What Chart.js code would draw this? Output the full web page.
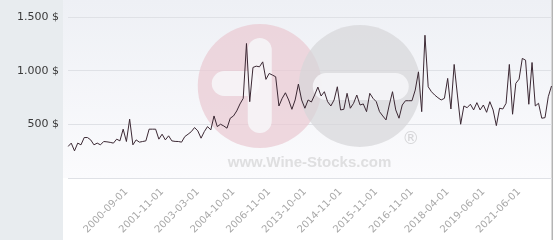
<!DOCTYPE html>
<html>
<head>
<meta charset="utf-8">
<script src="https://cdn.jsdelivr.net/npm/chart.js@4"></script>
<style>
    html, body { margin: 0; padding: 0; background: #fff; }
</style>
</head>
<body>
<canvas id="priceChart" width="560" height="240"></canvas>
<script>
// price per bottle, one value per quotation
const prices = [
    293, 325, 253, 325, 309, 377, 377, 355, 309, 325,
    309, 340, 337, 332, 325, 362, 346, 455, 340, 548,
    309, 355, 334, 340, 346, 455, 455, 455, 362, 408,
    355, 393, 346, 341, 340, 334, 386, 408, 432, 470,
    439, 371, 432, 479, 448, 578, 479, 501, 485, 464,
    557, 578, 625, 690, 742, 1253, 711, 1030, 1042, 1036,
    1082, 919, 974, 959, 943, 671, 742, 794, 727, 640,
    727, 875, 727, 650, 727, 708, 773, 847, 764, 804,
    711, 671, 727, 850, 634, 640, 789, 650, 696, 773,
    680, 690, 618, 789, 742, 711, 618, 578, 541, 680,
    804, 634, 557, 680, 720, 720, 720, 819, 989, 618,
    1330, 850, 804, 773, 748, 727, 742, 928, 643, 1058,
    773, 501, 671, 655, 687, 634, 702, 634, 680, 612,
    711, 634, 488, 650, 643, 696, 1058, 594, 882, 921,
    1114, 1098, 687, 1076, 671, 696, 557, 562, 757, 857
];

const xTickLabels = [
    '2000-09-01', '2001-11-01', '2003-03-01', '2004-10-01', '2006-11-01', '2013-10-01',
    '2014-11-01', '2015-11-01', '2016-11-01', '2018-04-01', '2019-06-01', '2021-06-01'
];
const xTickIndex = [18, 29, 40, 51, 62, 73, 84, 95, 106, 117, 128, 139];

const yTicks = [0, 500, 1000, 1500];

const categories = prices.map(function (p, i) {
    const k = xTickIndex.indexOf(i);
    return k >= 0 ? xTickLabels[k] : '';
});

function formatDollar(v) {
    if (v === 0) return '';
    return String(v).replace(/\B(?=(\d{3})+(?!\d))/g, '.') + ' $';
}

const backdrop = {
    id: 'backdrop',
    beforeDraw(chart) {
        const {ctx, chartArea, width, height} = chart;
        ctx.save();
        ctx.fillStyle = '#ffffff';
        ctx.fillRect(0, 0, width, height);
        const g = ctx.createLinearGradient(0, 0, 0, chartArea.bottom);
        g.addColorStop(0, '#eef0f5');
        g.addColorStop(1, '#fbfbfd');
        ctx.fillStyle = g;
        ctx.fillRect(63, 0, chartArea.right - 63, chartArea.bottom);
        ctx.fillStyle = '#e8ecef';
        ctx.fillRect(0, 0, 63, height);
        ctx.fillStyle = '#b4b4b4';
        ctx.fillRect(chartArea.right, 0, 1.5, height);
        ctx.restore();
    }
};

function roundBar(ctx, x, y, w, h) {
    const r = Math.min(w, h) / 2;
    ctx.beginPath();
    ctx.roundRect(x, y, w, h, r);
    ctx.fill();
}

// faint site logo behind the line
const watermark = {
    id: 'watermark',
    beforeDatasetsDraw(chart) {
        const {ctx, chartArea} = chart;
        const cx = (chartArea.left + chartArea.right) / 2;
        const cy = chartArea.top + 69;
        ctx.save();
        ctx.globalAlpha = 0.7;
        ctx.fillStyle = '#e9c9d1';
        ctx.beginPath();
        ctx.arc(cx - 50, cy, 62, 0, Math.PI * 2);
        ctx.fill();
        ctx.fillStyle = '#d6d6d8';
        ctx.beginPath();
        ctx.arc(cx + 50, cy, 61, 0, Math.PI * 2);
        ctx.fill();
        ctx.globalAlpha = 0.85;
        ctx.fillStyle = '#f7f7f9';
        roundBar(ctx, cx - 62, cy - 48, 24, 95);
        roundBar(ctx, cx - 98, cy - 15, 48, 25);
        roundBar(ctx, cx + 3, cy - 13, 96, 27);
        ctx.fillStyle = '#d9d9db';
        ctx.font = 'bold 15px "Liberation Sans"';
        ctx.textBaseline = 'alphabetic';
        ctx.textAlign = 'left';
        ctx.fillText('www.Wine-Stocks.com', cx - 82, cy + 81);
        ctx.fillStyle = '#cfcfd1';
        ctx.font = '17px "DejaVu Sans"';
        ctx.textAlign = 'center';
        ctx.textBaseline = 'middle';
        ctx.fillText('®', cx + 101, cy + 54);
        ctx.restore();
    }
};

Chart.defaults.font.family = '"DejaVu Sans"';

new Chart(document.getElementById('priceChart'), {
    type: 'line',
    data: {
        labels: categories,
        datasets: [{
            data: prices,
            borderColor: '#3b2833',
            borderWidth: 1,
            pointRadius: 0,
            tension: 0,
            fill: false
        }]
    },
    options: {
        responsive: false,
        animation: false,
        layout: {padding: {top: 17, right: 5, left: 0, bottom: 0}},
        plugins: {
            legend: {display: false},
            tooltip: {enabled: false}
        },
        scales: {
            x: {
                grid: {display: false},
                border: {display: true, color: '#dfe1e6', width: 1},
                afterFit: function (scale) { scale.height = 62; },
                ticks: {
                    autoSkip: false,
                    minRotation: 45,
                    maxRotation: 45,
                    padding: 0,
                    color: '#a8a8a8',
                    font: {size: 10}
                }
            },
            y: {
                min: 0,
                max: 1500,
                afterFit: function (scale) { scale.width = 68; },
                afterBuildTicks: function (scale) {
                    scale.ticks = yTicks.map(function (v) { return {value: v}; });
                },
                grid: {color: '#dfe1e6', lineWidth: 1, drawTicks: false},
                border: {display: false},
                ticks: {
                    padding: 9,
                    color: '#3a3a3a',
                    font: {size: 11},
                    callback: formatDollar
                }
            }
        }
    },
    plugins: [backdrop, watermark]
});
</script>
</body>
</html>
